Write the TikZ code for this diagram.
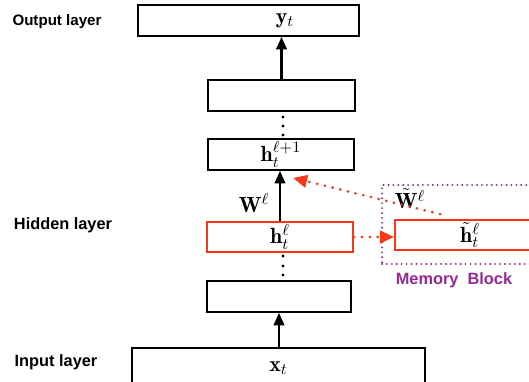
\documentclass[tikz,border=0pt]{standalone}
\usepackage{amsmath,amssymb,bm}
\usepackage{fontspec}
\setsansfont{Liberation Sans}
\usepackage{tikz}
\usetikzlibrary{arrows.meta}
\usepackage{xcolor}
\definecolor{hred}{RGB}{250,55,25}
\definecolor{mpurple}{RGB}{150,40,150}

\begin{document}
\begin{tikzpicture}[x=0.02cm, y=-0.02cm,
    mathfont/.style={font=\fontsize{12.5}{14}\selectfont},
    box/.style={draw, line width=1.1pt, minimum height=0.62cm, inner sep=0pt, mathfont},
    redbox/.style={box, draw=hred, minimum height=0.6cm},
    layer/.style={font=\sffamily\bfseries\fontsize{9.3}{11}\selectfont},
    up/.style={-{Triangle[length=7pt,width=6pt]}, line width=1.2pt},
    reddot/.style={hred, line width=1.7pt, line cap=round, dash pattern=on 0pt off 4.5pt, -{Triangle[length=8pt,width=7pt]}}]
      \useasboundingbox (0,0) rectangle (529,382);
      % layers
      \node[box, minimum width=4.42cm] (out) at (248.5,20.5) {};
      \node[mathfont] (yt) at (285,21) {$\mathbf{y}_t$};
      \node[box, minimum width=2.94cm] (top) at (281.5,95.5) {};
      \node[box, minimum width=2.92cm] (h2) at (281,154.5) {$\mathbf{h}_t^{\ell+1}$};
      \node[redbox, minimum width=2.92cm] (h1) at (280,237) {$\mathbf{h}_t^{\ell}$};
      \node[box, minimum width=2.88cm] (bot) at (279,296.5) {};
      \node[box, minimum width=5.86cm, minimum height=0.8cm] (in) at (278.5,368) {$\mathbf{x}_t$};
      % memory block
      \node[draw=mpurple, line width=1.2pt, line cap=round, dash pattern=on 0pt off 2.8pt, minimum width=3.26cm, minimum height=1.58cm] (mem) at (463.5,224.5) {};
      \node[redbox, minimum width=3cm] (ht) at (470,235) {$\tilde{\mathbf{h}}_t^{\ell}$};
      \node[layer, mpurple] (mlabel) at (454,280) {Memory\ \ Block};
      % labels
      \node[layer, font=\sffamily\bfseries\fontsize{8.6}{11}\selectfont] (lout) at (57,22) {Output layer};
      \node[layer] (lhid) at (63,225) {Hidden layer};
      \node[layer] (lin) at (56,362) {Input layer};
      \node[mathfont] (w) at (254,203) {$\mathbf{W}^{\ell}$};
      \node[mathfont] (wt) at (410,199) {$\tilde{\mathbf{W}}^{\ell}$};
      % connections
      \draw[up] (top.north) -- (top.north |- out.south);
      \draw[up] (h1.north) -- (h1.north |- h2.south);
      \draw[up] (bot.south |- in.north) -- (bot.south);
      \draw[reddot] (h1.east) -- (h1.east -| ht.west);
      \draw[reddot] ([xshift=-0.6cm, yshift=0.1cm]ht.north) -- ([xshift=0.24cm, yshift=-0.14cm]h2.south);
      \foreach \y in {117,126,135,256,266,275}
        \fill (283,\y) circle (1.6);
    \end{tikzpicture}
\end{document}
